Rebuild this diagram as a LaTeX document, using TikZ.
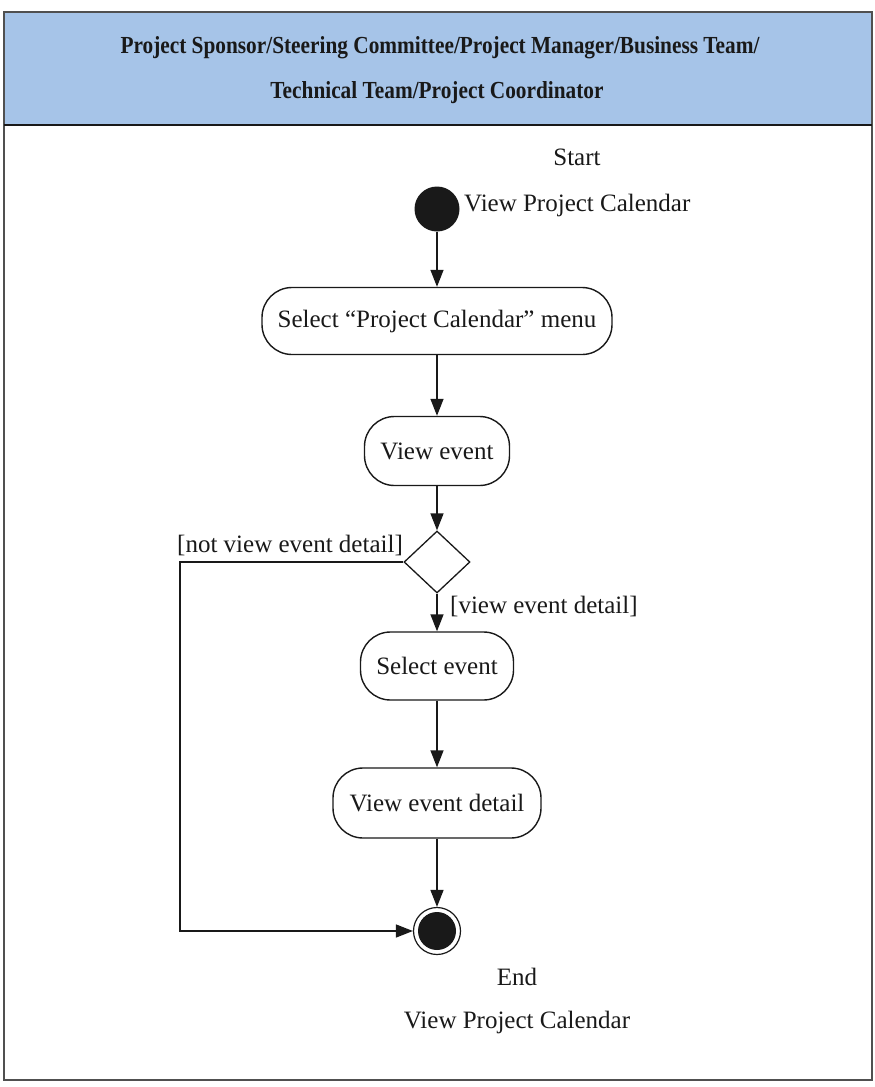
\documentclass[tikz,border=0pt]{standalone}
\usepackage{fontspec}
\setmainfont{Liberation Serif}
\newfontfamily\headfont[FakeStretch=0.87,BoldFont={* Bold}]{Liberation Serif}
\usetikzlibrary{arrows.meta,shapes.geometric}

\definecolor{headblue}{RGB}{166,196,232}
\definecolor{ink}{RGB}{25,25,25}
\definecolor{framegray}{RGB}{80,80,80}

\tikzset{
  flow/.style={draw=ink, line width=1.4pt, -{Triangle[length=17pt,width=13pt]}},
  act/.style={draw=ink, line width=1.4pt, rounded corners=30pt, inner sep=0pt,
              font=\fontsize{25}{29}\selectfont, text=ink},
  txt/.style={font=\fontsize{25}{29}\selectfont, text=ink, inner sep=0pt},
  headtxt/.style={font=\headfont\bfseries\fontsize{24.5}{28}\selectfont, text=ink, inner sep=0pt},
  startdot/.style={circle, fill=ink, minimum size=45pt, inner sep=0pt},
  endring/.style={circle, draw=ink, line width=1.2pt, minimum size=47pt, inner sep=0pt,
                  path picture={\fill[ink] (path picture bounding box.center) circle (19pt);}},
  decision/.style={diamond, draw=ink, line width=1.3pt, minimum width=66pt,
                   minimum height=62pt, aspect=1.06, inner sep=0pt}
}

\begin{document}
\begin{tikzpicture}[x=1pt,y=-1pt]
\useasboundingbox (0,0) rectangle (875,1087);
\fill[white] (0,0) rectangle (875,1087);

% swimlane frame and header
\fill[headblue] (4,12) rectangle (872,125);
\draw[framegray, line width=1.6pt] (4,12) rectangle (872,1080);
\draw[ink, line width=2pt] (4,125) -- (872,125);
\node[headtxt] (head1) at (440,48) {Project Sponsor/Steering Committee/Project Manager/Business Team/};
\node[headtxt] (head2) at (437,93) {Technical Team/Project Coordinator};

% activity nodes
\node[startdot] (start) at (437,209) {};
\node[txt] (startlbl) at (577,157) {Start};
\node[txt, anchor=west] (startname) at (464,205) {View Project Calendar};

\node[act, minimum width=350pt, minimum height=67pt] (sel) at (437,321) {Select “Project Calendar” menu};
\node[act, minimum width=145pt, minimum height=69pt] (view) at (437,451) {View event};
\node[decision] (dec) at (437,562) {};
\node[act, minimum width=153pt, minimum height=68pt] (selev) at (437,666) {Select event};
\node[act, minimum width=208pt, minimum height=70pt] (detail) at (437,803) {View event detail};
\node[endring] (end) at (437,931) {};

% guards and end labels
\node[txt, anchor=east] (notview) at (403,545) {[not view event detail]};
\node[txt, anchor=west] (yesview) at (450,606) {[view event detail]};
\node[txt] (endlbl) at (517,977) {End};
\node[txt] (endname) at (517,1022) {View Project Calendar};

% control flow
\draw[flow] (start) -- (sel);
\draw[flow] (sel) -- (view);
\draw[flow] (view) -- (dec);
\draw[flow] (dec) -- (selev);
\draw[flow] (selev) -- (detail);
\draw[flow] (detail) -- (end);
\coordinate (bend) at (180,562);
\draw[flow] (dec.west) -- (bend) |- (end);
\end{tikzpicture}
\end{document}
